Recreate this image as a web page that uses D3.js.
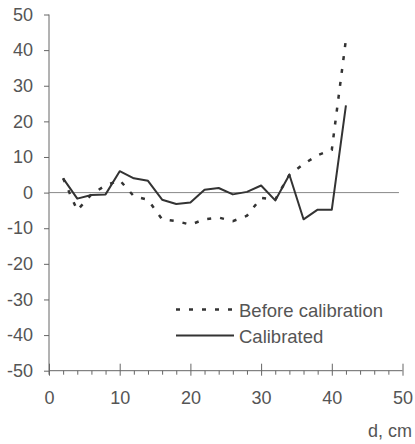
<!DOCTYPE html>
<html>
<head>
<meta charset="utf-8">
<script src="https://cdn.jsdelivr.net/npm/d3@7"></script>
<style>
  body { margin: 0; background: #fff; }
  text { font-family: "Liberation Sans", Arial, sans-serif; }
</style>
</head>
<body>
<script>
// distance, cm
const dist = [2, 4, 6, 8, 10, 12, 14, 16, 18, 20, 22, 24, 26, 28, 30, 32, 34, 36, 38, 40, 42];
// error values
const before = [4, -5, -0.5, 2, 3.5, -1, -2, -7.5, -8, -9, -7.5, -7, -8, -6.5, -1.5, -2, 5, 8, 10.5, 12, 43];
const calibrated = [4, -1.7, -0.7, -0.5, 6, 4, 3.3, -2, -3.2, -2.8, 0.8, 1.3, -0.5, 0.2, 2, -2.2, 5, -7.5, -4.8, -4.8, 24.5];
const xTicks = [0, 10, 20, 30, 40, 50];
const yTicks = [-50, -40, -30, -20, -10, 0, 10, 20, 30, 40, 50];
const seriesNames = ["Before calibration", "Calibrated"];

const W = 415, H = 444;
const svg = d3.select("body").append("svg")
    .attr("width", W)
    .attr("height", H);

const x = d3.scaleLinear().domain([0, 50]).range([49, 402.5]);
const y = d3.scaleLinear().domain([-50, 50]).range([370.7, 14.5]);

const txt = "#555";
const ink = "#333";

// y axis
const gy = svg.append("g")
    .attr("transform", `translate(${x(0)},0)`)
    .call(d3.axisLeft(y).tickValues(yTicks).tickSize(5).tickPadding(11).tickFormat(d3.format("d")));
gy.select(".domain").attr("stroke", "#666").attr("d", `M0,${y(50)}V${y(-50) + 4}`);
gy.selectAll(".tick line").attr("stroke", "#666");
gy.selectAll(".tick text")
    .attr("fill", txt)
    .style("font-size", "18px")
    .text(d => d < 0 ? "-" + Math.abs(d) : d);

// x axis - minor ticks
const minor = d3.range(0, 51, 2).filter(v => v % 10 !== 0);
const gxm = svg.append("g")
    .attr("transform", `translate(0,${y(-50)})`)
    .call(d3.axisBottom(x).tickValues(minor).tickSize(4).tickFormat(""));
gxm.select(".domain").remove();
gxm.selectAll(".tick line").attr("stroke", "#666");

// x axis - major ticks
const gx = svg.append("g")
    .attr("transform", `translate(0,${y(-50)})`)
    .call(d3.axisBottom(x).tickValues(xTicks).tickSize(5).tickPadding(16));
gx.select(".domain").attr("stroke", "#666").attr("d", `M${x(0)},0H${x(50)}`);
gx.selectAll(".tick line").attr("stroke", "#666").attr("y1", -7).attr("y2", 5);
gx.selectAll(".tick text")
    .attr("fill", txt)
    .style("font-size", "18px");

svg.append("text")
    .attr("x", 412)
    .attr("y", 437)
    .attr("text-anchor", "end")
    .attr("fill", txt)
    .style("font-size", "18px")
    .text("d, cm");

// zero line
svg.append("line")
    .attr("x1", x(0)).attr("x2", x(49.5))
    .attr("y1", y(0)).attr("y2", y(0))
    .attr("stroke", "#888")
    .attr("stroke-width", 1);

const line = d3.line()
    .x(d => x(d[0]))
    .y(d => y(d[1]));

svg.append("path")
    .datum(d3.zip(dist, before))
    .attr("fill", "none")
    .attr("stroke", ink)
    .attr("stroke-width", 2.5)
    .attr("stroke-dasharray", "4,9")
    .attr("d", line);

svg.append("path")
    .datum(d3.zip(dist, calibrated))
    .attr("fill", "none")
    .attr("stroke", ink)
    .attr("stroke-width", 2)
    .attr("stroke-linejoin", "round")
    .attr("d", line);

// legend
const leg = svg.append("g");
[0, 1].forEach(i => {
    const ly = 309.5 + i * 26;
    leg.append("line")
        .attr("x1", 176).attr("x2", i === 0 ? 238 : 234)
        .attr("y1", ly).attr("y2", ly)
        .attr("stroke", ink)
        .attr("stroke-width", i === 0 ? 2.5 : 2)
        .attr("stroke-dasharray", i === 0 ? "4,9" : null);
    leg.append("text")
        .attr("x", 239)
        .attr("y", ly + 7)
        .attr("fill", txt)
        .style("font-size", "18.5px")
        .text(seriesNames[i]);
});
</script>
</body>
</html>
